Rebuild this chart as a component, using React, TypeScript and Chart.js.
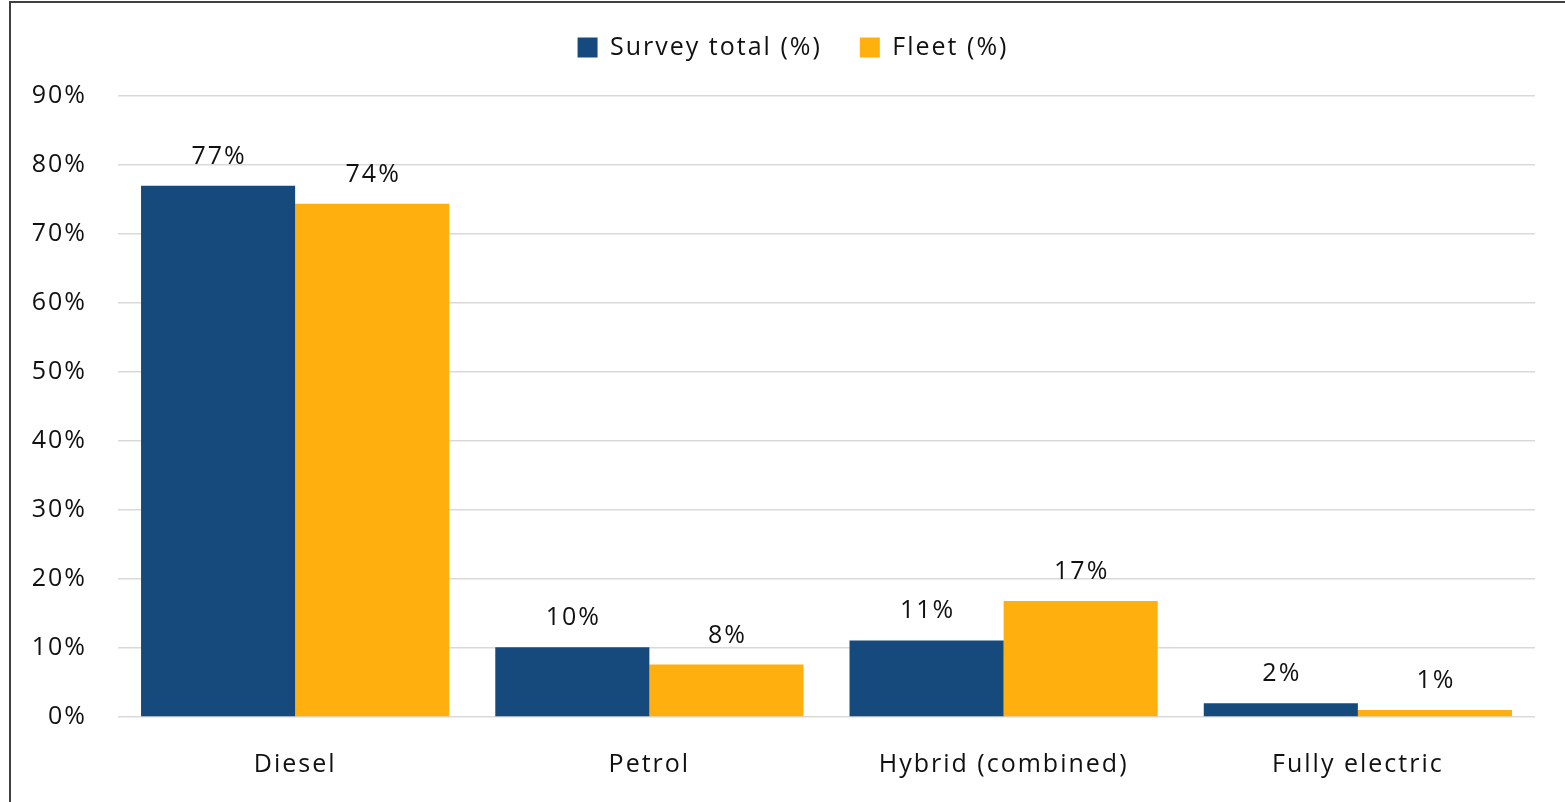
import React, { useEffect, useRef } from "react";
import { Chart, registerables } from "chart.js";

Chart.register(...registerables);

const categories = ["Diesel", "Petrol", "Hybrid (combined)", "Fully electric"];
const surveyTotal = [77, 10.1, 11.1, 2.0];
const fleet = [74.4, 7.6, 16.8, 1.0];
const surveyLabels = ["77%", "10%", "11%", "2%"];
const fleetLabels = ["74%", "8%", "17%", "1%"];
const seriesNames = ["Survey total (%)", "Fleet (%)"];
const yTicks = [0, 10, 20, 30, 40, 50, 60, 70, 80, 90];

const FONT = "'Open Sans', 'DejaVu Sans', sans-serif";
const FS = 25;
const SPACING = "2px";
const NAVY = "#174a7c";
const ORANGE = "#ffb00f";
const TEXT = "#111111";

const spacingPlugin = {
  id: "spacing",
  beforeLayout(chart: any) {
    chart.ctx.letterSpacing = SPACING;
  },
  afterLayout(chart: any) {
    // let the y tick labels use the space to the left of the axis box
    chart.scales.y.left = 0;
  },
  beforeDraw(chart: any) {
    chart.ctx.letterSpacing = SPACING;
  },
};

const dataLabelPlugin = {
  id: "dataLabels",
  afterDatasetsDraw(chart: any) {
    const ctx = chart.ctx;
    const labelSets = [surveyLabels, fleetLabels];
    ctx.save();
    ctx.letterSpacing = SPACING;
    ctx.font = `${FS}px ${FONT}`;
    ctx.fillStyle = TEXT;
    ctx.textAlign = "center";
    ctx.textBaseline = "alphabetic";
    chart.data.datasets.forEach((_ds: any, di: number) => {
      const meta = chart.getDatasetMeta(di);
      meta.data.forEach((bar: any, i: number) => {
        ctx.fillText(labelSets[di][i], bar.x + 1, bar.y - 22);
      });
    });
    ctx.restore();
  },
};

export default function App() {
  const canvasRef = useRef<HTMLCanvasElement | null>(null);

  useEffect(() => {
    if (!canvasRef.current) return;
    const chart = new Chart(canvasRef.current, {
      type: "bar",
      data: {
        labels: categories,
        datasets: [
          {
            label: seriesNames[0],
            data: surveyTotal,
            backgroundColor: NAVY,
            categoryPercentage: 0.87,
            barPercentage: 1,
          },
          {
            label: seriesNames[1],
            data: fleet,
            backgroundColor: ORANGE,
            categoryPercentage: 0.87,
            barPercentage: 1,
          },
        ],
      },
      options: {
        responsive: false,
        animation: false,
        maintainAspectRatio: false,
        layout: { padding: { top: -3, left: 51, right: 30, bottom: 0 } },
        plugins: {
          tooltip: { enabled: false },
          legend: {
            position: "top",
            labels: {
              boxWidth: 20,
              boxHeight: 20,
              padding: 38,
              color: TEXT,
              font: { family: FONT, size: FS },
            },
          },
          subtitle: {
            display: true,
            text: "",
            position: "top",
            weight: 500,
            padding: 0,
            font: { size: 26, lineHeight: 1 },
          },
          title: { display: false },
        },
        scales: {
          x: {
            grid: { display: false, drawTicks: false },
            border: { display: false },
            ticks: {
              color: TEXT,
              font: { family: FONT, size: FS },
              padding: 33,
            },
            afterFit: (scale: any) => {
              scale.height = 85;
            },
          },
          y: {
            min: 0,
            max: 90,
            afterBuildTicks: (scale: any) => {
              scale.ticks = yTicks.map((v) => ({ value: v }));
            },
            grid: { color: "#d9d9d9", lineWidth: 1.5, drawTicks: false },
            border: { display: false },
            ticks: {
              color: TEXT,
              font: { family: FONT, size: FS },
              padding: 31,
              callback: (v: any) => `${v}%`,
            },
            afterFit: (scale: any) => {
              scale.width = 67;
            },
          },
        },
      },
      plugins: [spacingPlugin, dataLabelPlugin],
    });
    return () => chart.destroy();
  }, []);

  return (
    <div style={{ position: "absolute", left: 0, top: 0, width: 1565, height: 802, background: "#fff", overflow: "hidden" }}>
      <div
        style={{
          position: "absolute",
          left: 9,
          top: 1,
          width: 1600,
          height: 900,
          borderLeft: "2px solid #404040",
          borderTop: "2px solid #404040",
          boxSizing: "border-box",
        }}
      />
      <canvas
        ref={canvasRef}
        width={1565}
        height={802}
        style={{ position: "absolute", left: 0, top: 0, width: 1565, height: 802 }}
      />
    </div>
  );
}
